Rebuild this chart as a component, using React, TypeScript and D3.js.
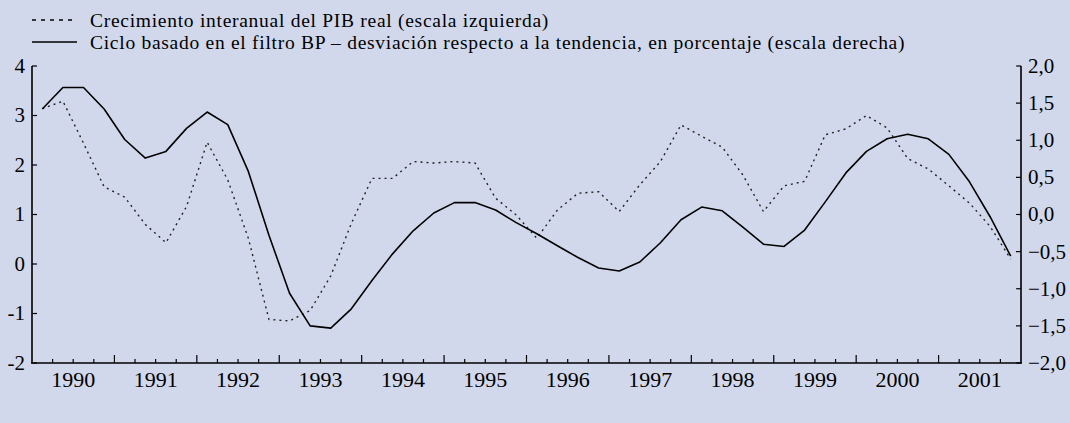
import React, { useRef, useEffect } from 'react';
import * as d3 from 'd3';

// trimestres 1990T1 - 2001T4
const years = [1990, 1991, 1992, 1993, 1994, 1995, 1996, 1997, 1998, 1999, 2000, 2001];
const quarters = years.flatMap((y) => [1, 2, 3, 4].map((q) => ({ year: y, q })));

// crecimiento interanual del PIB real (escala izquierda)
const pibGrowth = [
  3.14, 3.29, 2.44, 1.56,
  1.35, 0.8, 0.43, 1.16,
  2.46, 1.7, 0.52, -1.12,
  -1.15, -0.94, -0.24, 0.82,
  1.73, 1.73, 2.07, 2.04,
  2.07, 2.04, 1.33, 0.99,
  0.52, 1.09, 1.43, 1.46,
  1.06, 1.6, 2.07, 2.81,
  2.58, 2.36, 1.8, 1.06,
  1.58, 1.67, 2.61, 2.73,
  3.0, 2.75, 2.13, 1.92,
  1.58, 1.23, 0.76, 0.1
];

// ciclo filtro BP, desviación en % (escala derecha)
const bpCycle = [
  1.42, 1.71, 1.71, 1.42,
  1.01, 0.76, 0.85, 1.16,
  1.38, 1.21, 0.58, -0.28,
  -1.06, -1.5, -1.53, -1.27,
  -0.89, -0.53, -0.22, 0.02,
  0.16, 0.16, 0.06, -0.11,
  -0.26, -0.42, -0.58, -0.72,
  -0.76, -0.64, -0.38, -0.07,
  0.1, 0.05, -0.17, -0.4,
  -0.43, -0.21, 0.17, 0.56,
  0.85, 1.02, 1.08, 1.02,
  0.81, 0.44, -0.03, -0.56
];

const leftTicks = [-2, -1, 0, 1, 2, 3, 4];
const rightTicks = [-2, -1.5, -1, -0.5, 0, 0.5, 1, 1.5, 2];

const legendLabels = [
  'Crecimiento interanual del PIB real (escala izquierda)',
  'Ciclo basado en el filtro BP – desviación respecto a la tendencia, en porcentaje (escala derecha)'
];

const W = 1070;
const H = 423;
const BG = '#d2d8eb';
const FONT = '"Liberation Serif", "Times New Roman", serif';

export default function App(): JSX.Element {
  const svgRef = useRef<SVGSVGElement>(null);

  useEffect(() => {
    const el = svgRef.current;
    if (el == null) return;
    const svg = d3.select(el);
    svg.selectAll('*').remove();

    const left = 32;
    const right = 1021;
    const top = 66;
    const bottom = 363;

    const x = d3.scaleLinear().domain([1990, 2002]).range([left, right]);
    const yL = d3.scaleLinear().domain([-2, 4]).range([bottom, top]);
    const yR = d3.scaleLinear().domain([-2, 2]).range([bottom, top]);
    const xq = (i: number) => x(quarters[i].year + (quarters[i].q - 0.5) / 4);

    svg.append('rect').attr('width', W).attr('height', H).attr('fill', BG);

    // ejes
    const axes = svg.append('g').attr('stroke', '#000').attr('stroke-width', 1.6);
    axes.append('line').attr('x1', left).attr('x2', left).attr('y1', top).attr('y2', bottom);
    axes.append('line').attr('x1', right).attr('x2', right).attr('y1', top).attr('y2', bottom);
    axes.append('line').attr('x1', left - 1).attr('x2', right + 1).attr('y1', bottom).attr('y2', bottom);

    leftTicks.forEach((t) => {
      axes.append('line').attr('x1', left).attr('x2', left + 5).attr('y1', yL(t)).attr('y2', yL(t)).attr('stroke-width', 1.2);
    });
    rightTicks.forEach((t) => {
      axes.append('line').attr('x1', right - 5).attr('x2', right).attr('y1', yR(t)).attr('y2', yR(t)).attr('stroke-width', 1.2);
    });
    // marcas trimestrales y anuales
    for (let i = 1; i < quarters.length; i++) {
      const v = 1990 + i / 4;
      const major = i % 4 === 0;
      axes.append('line')
        .attr('x1', x(v)).attr('x2', x(v))
        .attr('y1', bottom).attr('y2', bottom - (major ? 8 : 4))
        .attr('stroke-width', 1.2);
    }

    const txt = svg.append('g').attr('font-family', FONT).attr('fill', '#000');
    leftTicks.forEach((t) => {
      txt.append('text').attr('x', left - 7).attr('y', yL(t)).attr('dy', '0.33em')
        .attr('text-anchor', 'end').attr('font-size', 21).text(String(t));
    });
    rightTicks.forEach((t) => {
      txt.append('text').attr('x', right + 7).attr('y', yR(t)).attr('dy', '0.33em')
        .attr('font-size', 21).text(d3.format('.1f')(t).replace('.', ','));
    });
    years.forEach((yr) => {
      txt.append('text').attr('x', x(yr + 0.5)).attr('y', 387)
        .attr('text-anchor', 'middle').attr('font-size', 22).text(String(yr));
    });

    // series
    const lineL = d3.line<number>().x((_, i) => xq(i)).y((d) => yL(d));
    const lineR = d3.line<number>().x((_, i) => xq(i)).y((d) => yR(d));

    svg.append('path').datum(pibGrowth).attr('d', lineL)
      .attr('fill', 'none').attr('stroke', '#222').attr('stroke-width', 1.4)
      .attr('stroke-dasharray', '2,4');
    svg.append('path').datum(bpCycle).attr('d', lineR)
      .attr('fill', 'none').attr('stroke', '#000').attr('stroke-width', 1.6)
      .attr('stroke-linejoin', 'round');

    // leyenda
    const lg = svg.append('g');
    lg.append('line').attr('x1', 32).attr('x2', 77).attr('y1', 20).attr('y2', 20)
      .attr('stroke', '#000').attr('stroke-width', 1.4).attr('stroke-dasharray', '4,5');
    lg.append('line').attr('x1', 32).attr('x2', 77).attr('y1', 42).attr('y2', 42)
      .attr('stroke', '#000').attr('stroke-width', 1.6);
    legendLabels.forEach((l, i) => {
      lg.append('text').attr('x', 90).attr('y', 26.5 + i * 22.5)
        .attr('font-family', FONT).attr('font-size', 19.5)
        .attr('letter-spacing', 0.72).text(l);
    });
  }, []);

  return (
    <svg
      ref={svgRef}
      width={W}
      height={H}
      style={{ position: 'absolute', left: 0, top: 0, display: 'block' }}
    />
  );
}
